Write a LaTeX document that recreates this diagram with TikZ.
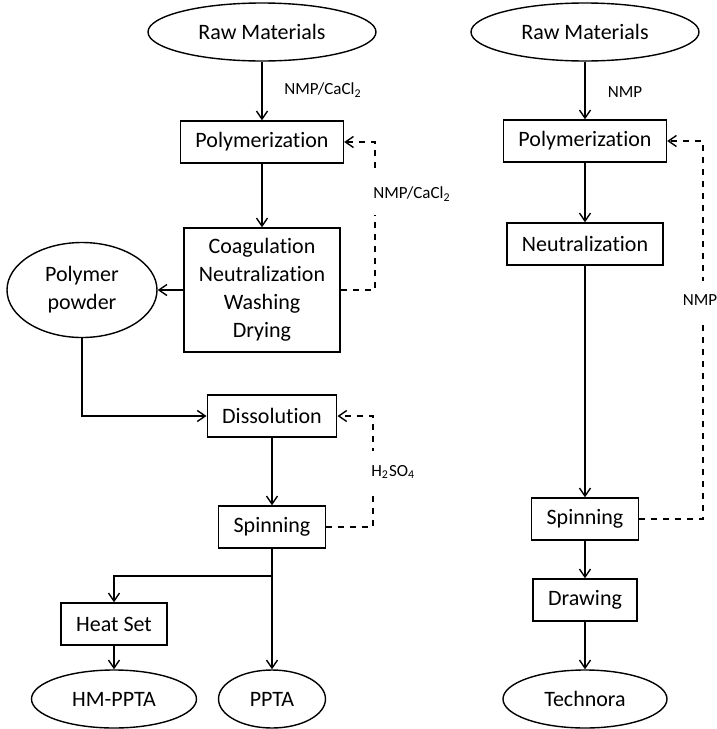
\documentclass[tikz,border=0pt]{standalone}
\usepackage{fontspec}
\setmainfont{Carlito}[Ligatures=NoCommon]
\usetikzlibrary{arrows.meta,shapes.geometric}

\tikzset{
  stage/.style={draw,rectangle,line width=0.7pt,inner xsep=7.5pt,minimum height=21pt,
    font=\fontsize{11}{14}\selectfont,align=center},
  endpt/.style={draw,ellipse,line width=0.7pt,inner sep=0pt,minimum height=29pt,
    font=\fontsize{11}{14}\selectfont,align=center},
  flow/.style={line width=0.7pt,-{Straight Barb[length=4pt,width=5.5pt]}},
  recyc/.style={flow,dash pattern=on 3pt off 3pt},
  chem/.style={font=\fontsize{8.5}{10}\selectfont,inner xsep=1pt},
  chemgap/.style={chem,fill=white,inner ysep=7pt}
}

\begin{document}
\begin{tikzpicture}[x=0.5pt,y=-0.5pt]
 \useasboundingbox (0,0) rectangle (717,729);
 % PPTA route
 \draw (262,32) node[endpt,minimum width=114pt] (rawL) {Raw Materials};
 \draw (262,142) node[stage] (polyL) {Polymerization};
 \draw (262,290) node[stage,minimum height=62pt] (coag) {Coagulation\\Neutralization\\Washing\\Drying};
 \draw (82,290) node[endpt,minimum width=75pt,minimum height=47.5pt] (powder) {Polymer\\powder};
 \draw (272,416) node[stage] (diss) {Dissolution};
 \draw (272,527) node[stage] (spinL) {Spinning};
 \draw (114,624) node[stage] (heat) {Heat Set};
 \draw (114,699) node[endpt,minimum width=82.5pt] (hmppta) {HM-PPTA};
 \draw (272,699) node[endpt,minimum width=53.5pt] (ppta) {PPTA};
 \coordinate (bendA) at (375,290);
 \coordinate (bendB) at (373,527);
 \coordinate (fork) at (272,576);

 \draw[flow] (rawL) -- (polyL);
 \draw[flow] (polyL) -- (coag);
 \draw[flow] (coag) -- (powder);
 \draw[flow] (powder) |- (diss);
 \draw[flow] (diss) -- (spinL);
 \draw[line width=0.7pt] (spinL) -- (fork);
 \draw[flow] (fork) -| (heat);
 \draw[flow] (fork) -- (ppta);
 \draw[flow] (heat) -- (hmppta);
 \draw[recyc] (coag) -- (bendA) |- (polyL);
 \draw[recyc] (spinL) -- (bendB) |- (diss);
 \draw (323,90) node[chem] (solvA) {NMP/CaCl\textsubscript{2}};
 \draw (371,194) node[chemgap,anchor=west] (solvB) {NMP/CaCl\textsubscript{2}};
 \draw (369,472) node[chemgap,anchor=west] (acid) {H\textsubscript{2}SO\textsubscript{4}};

 % Technora route
 \draw (585,32) node[endpt,minimum width=114pt] (rawR) {Raw Materials};
 \draw (585,141) node[stage] (polyR) {Polymerization};
 \draw (585,244) node[stage] (neut) {Neutralization};
 \draw (585,519) node[stage] (spinR) {Spinning};
 \draw (585,600) node[stage] (drawing) {Drawing};
 \draw (585,699) node[endpt,minimum width=82pt] (technora) {Technora};
 \coordinate (bendC) at (703,519);

 \draw[flow] (rawR) -- (polyR);
 \draw[flow] (polyR) -- (neut);
 \draw[flow] (neut) -- (spinR);
 \draw[flow] (spinR) -- (drawing);
 \draw[flow] (drawing) -- (technora);
 \draw[recyc] (spinR) -- (bendC) |- (polyR);
 \draw (625,92) node[chem] (solvC) {NMP};
 \draw (700,300) node[chemgap] (solvD) {NMP};
\end{tikzpicture}
\end{document}
